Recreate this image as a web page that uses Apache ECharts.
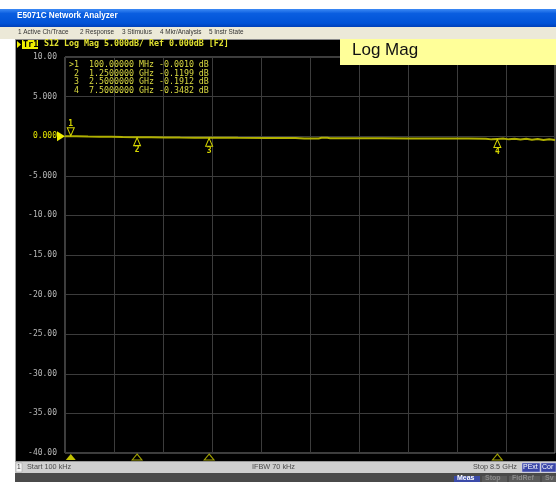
<!DOCTYPE html>
<html><head><meta charset="utf-8">
<script src="https://cdn.jsdelivr.net/npm/echarts@6/dist/echarts.min.js"></script>
<style>html,body{margin:0;padding:0;background:#fff}#c{width:556px;height:482px}</style>
</head><body><div id="c"></div>
<script>
// ---- data ----
const windowTitle = 'E5071C Network Analyzer';
const menuItems = ['1 Active Ch/Trace', '2 Response', '3 Stimulus', '4 Mkr/Analysis', '5 Instr State'];
const traceHeader = 'S12 Log Mag 5.000dB/ Ref 0.000dB [F2]';
const traceBadge = 'Tr1';
const formatTitle = 'Log Mag';
const freqGHz = [0.0001, 0.05, 0.1, 0.2, 0.4, 0.6, 0.8, 1.0, 1.25, 1.5, 1.75, 2.0, 2.25, 2.5, 2.75, 3.0, 3.5, 4.0, 4.15, 4.4, 4.45, 4.55, 4.6, 5.0, 5.5, 6.0, 6.5, 7.0, 7.3, 7.4, 7.5, 7.6, 7.7, 7.8, 7.9, 8.0, 8.1, 8.2, 8.3, 8.4, 8.5];
const s12dB   = [0.000, -0.001, -0.0010, -0.010, -0.040, -0.060, -0.080, -0.100, -0.1199, -0.130, -0.150, -0.170, -0.180, -0.1912, -0.200, -0.210, -0.220, -0.220, -0.290, -0.290, -0.200, -0.200, -0.260, -0.260, -0.270, -0.280, -0.290, -0.300, -0.310, -0.400, -0.3482, -0.300, -0.400, -0.320, -0.420, -0.330, -0.450, -0.360, -0.470, -0.400, -0.480];
const markerNames = ['1', '2', '3', '4'];
const markerFreqGHz = [0.1, 1.25, 2.5, 7.5];
const markerValues = [-0.0010, -0.1199, -0.1912, -0.3482];
const markerFreqText = ['100.00000 MHz', '1.2500000 GHz', '2.5000000 GHz', '7.5000000 GHz'];
const yTicks = [10, 5, 0, -5, -10, -15, -20, -25, -30, -35, -40];
const yTickLabels = ['10.00', '5.000', '0.000', '-5.000', '-10.00', '-15.00', '-20.00', '-25.00', '-30.00', '-35.00', '-40.00'];
const refLevel = 0;
const statusItems = ['Start 100 kHz', 'IFBW 70 kHz', 'Stop 8.5 GHz'];
const statusBadges = ['PExt', 'Cor'];
const softKeys = ['Meas', 'Stop', 'FidRef', 'Sv'];

// ---- chart ----
const chart = echarts.init(document.getElementById('c'), null, {renderer: 'canvas'});
const MONO = '"DejaVu Sans Mono", monospace';
const SANS = '"Liberation Sans", Arial, sans-serif';
const Y = '#e0e030';

const graphics = [];
graphics.push({type: 'rect', shape: {x: 0, y: 0, width: 556, height: 482}, style: {fill: '#ffffff'}, z: -20});
// title bar
graphics.push({type: 'rect', shape: {x: 0, y: 9, width: 556, height: 18},
  style: {fill: new echarts.graphic.LinearGradient(0, 0, 0, 1, [
    {offset: 0, color: '#3d8af5'}, {offset: 0.25, color: '#0a5ee0'}, {offset: 0.8, color: '#0052d6'}, {offset: 1, color: '#0040b8'}])}, z: -19});
graphics.push({type: 'text', left: 17, top: 12, style: {text: windowTitle, fill: '#ffffff', font: 'bold 8.2px ' + SANS}, z: 5});
// menu bar
graphics.push({type: 'rect', shape: {x: 0, y: 27, width: 556, height: 12}, style: {fill: '#ece9d8'}, z: -19});
const menuX = [18, 80, 122, 160, 209];
menuItems.forEach((m, i) => graphics.push({type: 'text', left: menuX[i], top: 29, style: {text: m, fill: '#333', font: '6.4px ' + SANS}, z: 5}));
// black screen area
graphics.push({type: 'rect', shape: {x: 15, y: 39, width: 541, height: 1}, style: {fill: '#8a8a8a'}, z: -19});
graphics.push({type: 'rect', shape: {x: 15, y: 39, width: 1, height: 423}, style: {fill: '#9a9a9a'}, z: -19});
graphics.push({type: 'rect', shape: {x: 16, y: 40, width: 540, height: 421}, style: {fill: '#000000'}, z: -19});
// Log Mag box
graphics.push({type: 'rect', shape: {x: 340, y: 39, width: 216, height: 26}, style: {fill: '#ffff99'}, z: 6});
graphics.push({type: 'text', left: 352, top: 42, style: {text: formatTitle, fill: '#111', font: '17px ' + SANS}, z: 7});
// trace header
graphics.push({type: 'polygon', shape: {points: [[17, 41], [21, 44.5], [17, 48]]}, style: {fill: '#f0f000'}, z: 5});
graphics.push({type: 'rect', shape: {x: 22, y: 40, width: 16, height: 9}, style: {fill: '#f0f000'}, z: 5});
graphics.push({type: 'text', left: 23, top: 40, style: {text: traceBadge, fill: '#000', font: 'bold 8.5px ' + MONO}, z: 6});
graphics.push({type: 'text', left: 44, top: 40, style: {text: traceHeader, fill: Y, font: 'bold 8.3px ' + MONO}, z: 6});
// marker table
markerNames.forEach((n, i) => {
  const pre = (i === 0 ? '>' : ' ') + n;
  const v = markerValues[i].toFixed(4);
  graphics.push({type: 'text', left: 69, top: 61 + i * 8.5,
    style: {text: pre + '  ' + markerFreqText[i] + ' ' + v + ' dB', fill: '#d8d840', font: '8.3px ' + MONO}, z: 6});
});
// status bar
graphics.push({type: 'rect', shape: {x: 15, y: 461, width: 541, height: 1}, style: {fill: '#9a9a9a'}, z: -19});
graphics.push({type: 'rect', shape: {x: 15, y: 462, width: 541, height: 11}, style: {fill: '#cfcfcf'}, z: -19});
graphics.push({type: 'rect', shape: {x: 16, y: 463, width: 6, height: 9}, style: {fill: '#f4f4f4', stroke: '#999', lineWidth: 0.5}, z: 5});
graphics.push({type: 'text', left: 17, top: 464, style: {text: '1', fill: '#333', font: '6.5px ' + SANS}, z: 6});
const statusX = [27, 252, 473];
statusItems.forEach((s, i) => graphics.push({type: 'text', left: statusX[i], top: 463.5, style: {text: s, fill: '#4a4a4a', font: '7.3px ' + SANS}, z: 6}));
const badgeX = [522, 541], badgeW = [18, 15];
statusBadges.forEach((b, i) => {
  graphics.push({type: 'rect', shape: {x: badgeX[i], y: 463, width: badgeW[i], height: 9}, style: {fill: '#3a46a8', stroke: '#c8c8f0', lineWidth: 0.5}, z: 5});
  graphics.push({type: 'text', left: badgeX[i] + 1, top: 464, style: {text: b, fill: '#fff', font: '7px ' + SANS}, z: 6});
});
// soft key strip
graphics.push({type: 'rect', shape: {x: 15, y: 473, width: 541, height: 9}, style: {fill: '#4a4a4a'}, z: -19});
const keyX = [454, 482, 509, 542], keyW = [26, 25, 31, 14];
softKeys.forEach((k, i) => {
  graphics.push({type: 'rect', shape: {x: keyX[i], y: 476, width: keyW[i], height: 6}, style: {fill: i === 0 ? '#3a4aa8' : '#5a5a5a'}, z: 5});
  graphics.push({type: 'text', left: keyX[i] + 3, top: 475, style: {text: k, fill: i === 0 ? '#ffffff' : '#8a8a8a', font: 'bold 7px ' + SANS}, z: 6});
});

const traceData = freqGHz.map((f, i) => [f, s12dB[i]]);
const markPts = markerNames.map((n, i) => {
  const active = i === 0;
  return {
    coord: [markerFreqGHz[i], markerValues[i]],
    symbol: 'triangle',
    symbolSize: [7, 8],
    symbolRotate: active ? 180 : 0,
    symbolOffset: [0, active ? -4.5 : 4.5],
    itemStyle: {color: 'rgba(0,0,0,0)', borderColor: '#d8d800', borderWidth: 1},
    label: {show: true, formatter: n, position: active ? 'top' : 'bottom', distance: active ? -1 : 0,
      color: '#d8d800', fontFamily: MONO, fontSize: 8, fontWeight: 'bold'}
  };
});
markPts.push({
  coord: [0, refLevel], symbol: 'triangle', symbolSize: [10, 8], symbolRotate: -90, symbolOffset: [-4, 0],
  itemStyle: {color: '#f0f000'}, label: {show: false}
});

chart.setOption({
  animation: false,
  backgroundColor: '#ffffff',
  graphic: graphics,
  grid: {left: 65, top: 57, width: 490, height: 396, show: true, borderColor: '#7c7c7c', borderWidth: 1, backgroundColor: 'transparent'},
  xAxis: {type: 'value', min: 0, max: 8.5, interval: 0.85,
    axisLine: {show: false}, axisTick: {show: false}, axisLabel: {show: false},
    splitLine: {show: true, lineStyle: {color: '#3c3c3c', width: 1}}},
  yAxis: {type: 'value', min: -40, max: 10, interval: 5,
    axisLine: {show: false}, axisTick: {show: false},
    axisLabel: {margin: 8, fontFamily: MONO, fontSize: 8,
      formatter: v => yTickLabels[yTicks.indexOf(v)],
      color: v => (Number(v) === refLevel ? '#e8e800' : '#b8b8b8')},
    splitLine: {show: true, lineStyle: {color: '#3c3c3c', width: 1}}},
  series: [
    {type: 'line', data: traceData, showSymbol: false, symbol: 'none', z: 3,
      lineStyle: {color: '#b0b000', width: 2},
      markPoint: {data: markPts, z: 4}},
    {type: 'scatter', clip: false, z: 4,
      data: markerFreqGHz.map((f, i) => ({value: [f, -40],
        itemStyle: i === 0 ? {color: '#f0f000'} : {color: 'rgba(0,0,0,0)', borderColor: '#c8c800', borderWidth: 1}})),
      symbol: 'triangle', symbolSize: [10, 6], symbolOffset: [0, 4]}
  ]
});
</script>
</body></html>
